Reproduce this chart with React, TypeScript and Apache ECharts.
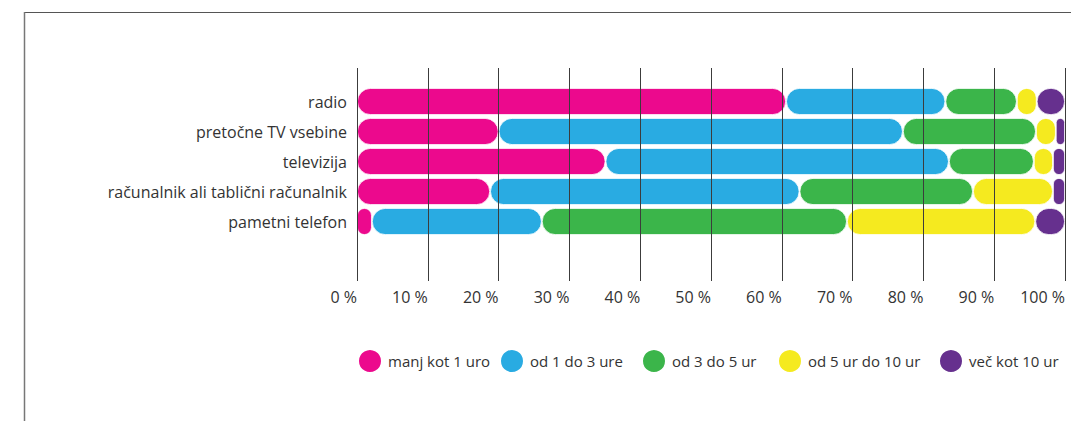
import React, { useEffect, useRef } from "react";
import * as echarts from "echarts";

const categories = [
  "radio",
  "pretočne TV vsebine",
  "televizija",
  "računalnik ali tablični računalnik",
  "pametni telefon",
];
const seriesNames = ["manj kot 1 uro", "od 1 do 3 ure", "od 3 do 5 ur", "od 5 ur do 10 ur", "več kot 10 ur"];
const manjKot1 = [60.6, 20.0, 35.1, 18.8, 2.1];
const od1do3 = [22.5, 57.1, 48.5, 43.7, 24.0];
const od3do5 = [10.1, 18.8, 12.0, 24.5, 43.1];
const od5do10 = [2.8, 2.8, 2.7, 11.3, 26.6];
const vecKot10 = [4.0, 1.3, 1.7, 1.7, 4.2];
const colors = ["#EC098D", "#29ABE2", "#3BB54A", "#F5EA1F", "#66308E"];
const legendLefts = [357, 499, 641, 777, 938];

export default function App() {
  const ref = useRef<HTMLDivElement>(null);
  useEffect(() => {
    if (!ref.current) return;
    const chart = echarts.init(ref.current, undefined, { renderer: "svg" });
    const values = [manjKot1, od1do3, od3do5, od5do10, vecKot10];
    const font = "Open Sans";
    chart.setOption({
      animation: false,
      backgroundColor: "#ffffff",
      textStyle: { fontFamily: font },
      grid: [
        { left: 357, right: 6, top: 86.5, height: 150, containLabel: false },
        { left: 357, right: 6, top: 68, bottom: 140, containLabel: false },
      ],
      xAxis: [
        { type: "value", gridIndex: 0, min: 0, max: 100, show: false },
        {
          type: "value",
          gridIndex: 1,
          min: 0,
          max: 100,
          interval: 10,
          z: 5,
          axisLine: { show: false },
          axisTick: { show: false },
          splitLine: { show: true, lineStyle: { color: "#3c3c3c", width: 1 } },
          axisLabel: {
            formatter: "{value} %",
            align: "right",
            margin: 8,
            color: "#333",
            fontSize: 16,
            fontFamily: font,
          },
        },
      ],
      yAxis: [
        {
          type: "category",
          gridIndex: 0,
          data: categories,
          inverse: true,
          axisLine: { show: false },
          axisTick: { show: false },
          splitLine: { show: false },
          axisLabel: { color: "#333", fontSize: 16, margin: 10, fontFamily: font },
        },
        { type: "value", gridIndex: 1, show: false, min: 0, max: 1 },
      ],
      legend: seriesNames.map((n, i) => ({
        data: [{ name: n, itemStyle: { color: colors[i] } }],
        left: legendLefts[i],
        top: 348,
        padding: 0,
        orient: "horizontal",
        icon: "circle",
        itemWidth: 24,
        itemHeight: 24,
        selectedMode: false,
        textStyle: { color: "#333", fontSize: 15, fontFamily: font, padding: [0, 0, 0, 1] },
      })),
      series: seriesNames.map((n, i) => ({
        name: n,
        type: "bar",
        stack: "total",
        xAxisIndex: 0,
        yAxisIndex: 0,
        barWidth: 27,
        data: values[i],
        itemStyle: {
          color: colors[i],
          borderRadius: 13.5,
          borderColor: "#ffffff",
          borderWidth: 0.8,
        },
      })),
      graphic: [
        {
          type: "line",
          shape: { x1: 24, y1: 12.5, x2: 1071, y2: 12.5 },
          style: { stroke: "#555", lineWidth: 1.2 },
        },
        {
          type: "line",
          shape: { x1: 24.5, y1: 12, x2: 24.5, y2: 421 },
          style: { stroke: "#777", lineWidth: 1.5 },
        },
      ],
    });
    return () => chart.dispose();
  }, []);
  return (
    <div
      ref={ref}
      style={{ position: "fixed", left: 0, top: 0, width: 1071, height: 421 }}
    />
  );
}
